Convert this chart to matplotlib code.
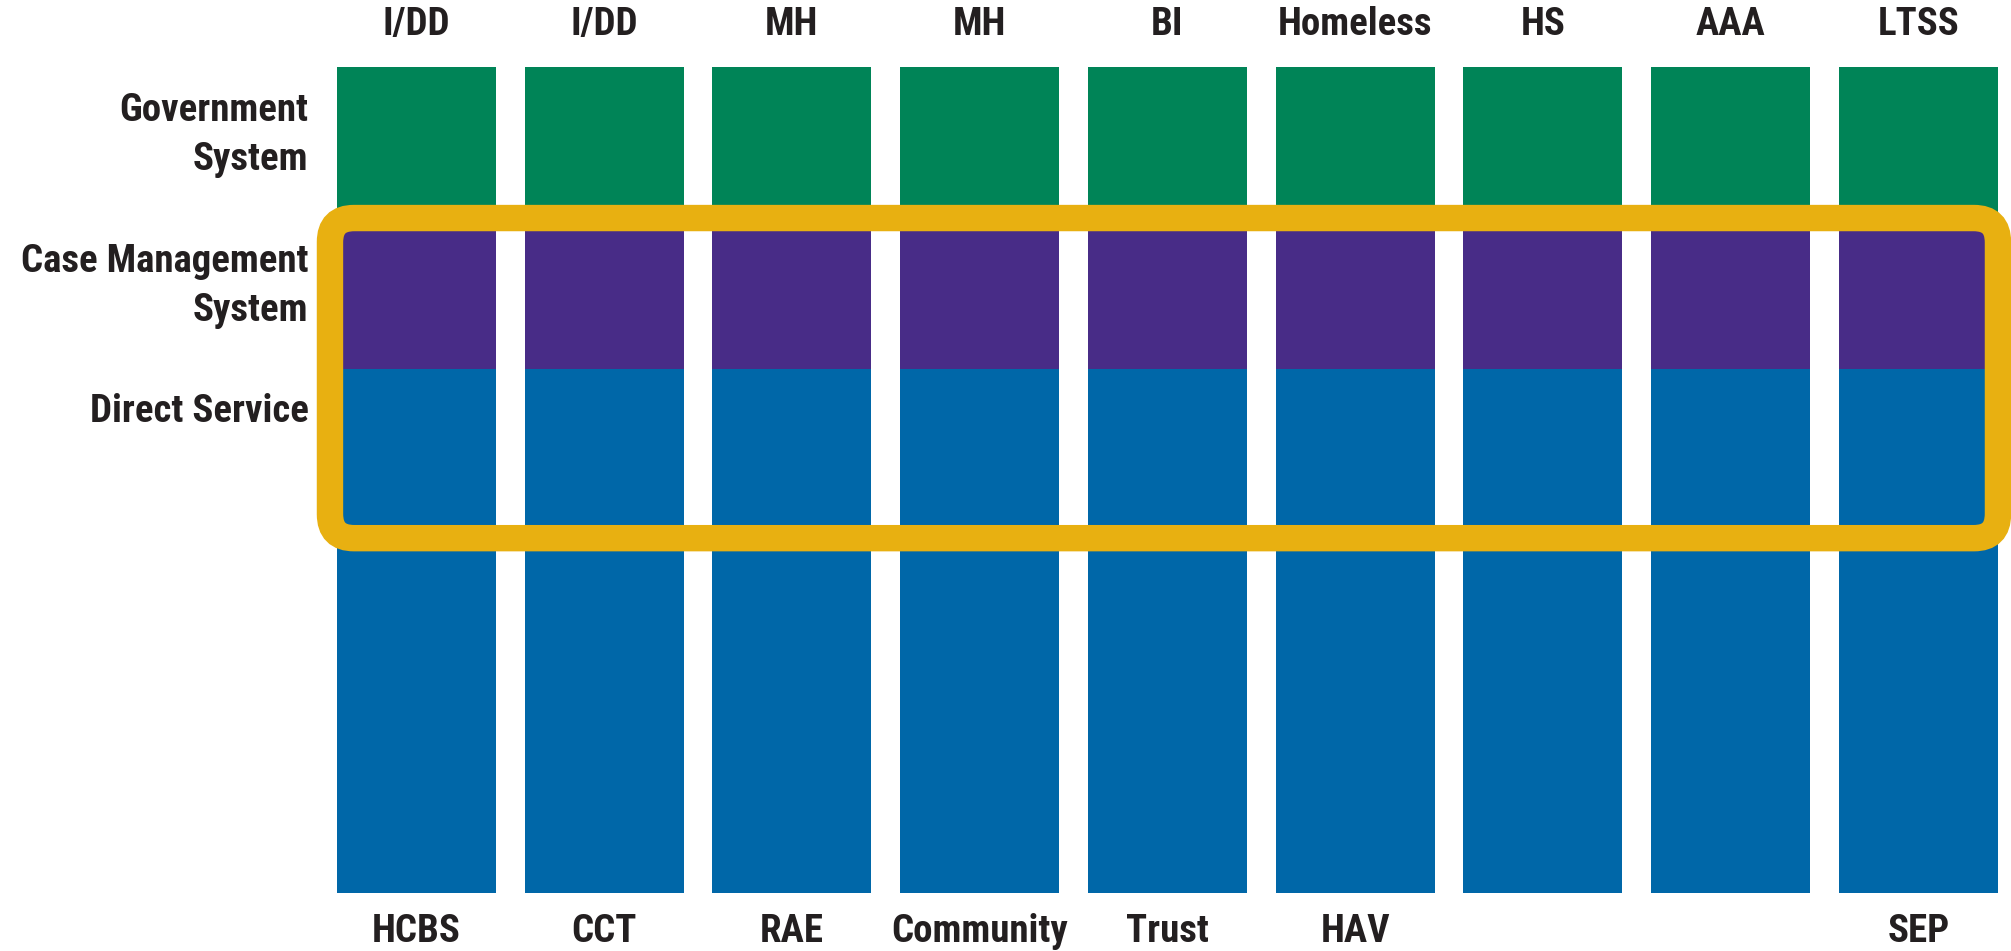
import matplotlib.pyplot as plt
from matplotlib.patches import FancyBboxPatch
from matplotlib.transforms import IdentityTransform

# data
top_labels = ["I/DD", "I/DD", "MH", "MH", "BI", "Homeless", "HS", "AAA", "LTSS"]
bottom_labels = ["HCBS", "CCT", "RAE", "Community", "Trust", "HAV", "", "", "SEP"]
direct_service = [3.47] * 9
case_management = [1.0] * 9
government = [1.0] * 9
row_labels = ["Government\nSystem", "Case Management\nSystem", "Direct Service"]
box_bottom = 2.35   # where the highlight box ends inside the blue block

green = "#008457"
purple = "#482c87"
blue = "#0067a8"
gold = "#e8b011"
ink = "#231f20"

plt.rcParams['font.family'] = ['Roboto Condensed', 'DejaVu Sans']
fs = 28

fig = plt.figure(figsize=(20.11, 9.51), dpi=100)
ax = fig.add_axes([0, 0, 1, 1])
ax.set_xlim(-2.218, 8.493)
ax.set_ylim(-0.384, 5.914)
ax.axis("off")

x = list(range(len(top_labels)))
w = 0.847
ax.bar(x, direct_service, width=w, color=blue)
ax.bar(x, case_management, width=w, bottom=direct_service, color=purple)
bot2 = [a + b for a, b in zip(direct_service, case_management)]
ax.bar(x, government, width=w, bottom=bot2, color=green)

tot = [a + b for a, b in zip(bot2, government)]
for i, lab in enumerate(top_labels):
    ax.text(i, tot[i] + 0.28, lab, ha="center", va="center", fontsize=fs,
            fontweight="bold", color=ink)
for i, lab in enumerate(bottom_labels):
    ax.text(i, -0.255, lab, ha="center", va="center", fontsize=fs,
            fontweight="bold", color=ink)

# row labels on the left
lab_x = -0.575
ax.text(lab_x, bot2[0] + government[0] / 2 + 0.05, row_labels[0], ha="right", va="center",
        fontsize=fs, fontweight="bold", color=ink, linespacing=1.38)
ax.text(lab_x, direct_service[0] + case_management[0] / 2 + 0.05, row_labels[1], ha="right",
        va="center", fontsize=fs, fontweight="bold", color=ink, linespacing=1.38)
ax.text(lab_x, direct_service[0] - 0.28, row_labels[2], ha="right", va="center",
        fontsize=fs, fontweight="bold", color=ink)

# rounded highlight around case management + direct service
fig.canvas.draw()
x0, y0 = ax.transData.transform((x[0] - w / 2 - 0.037, box_bottom))
x1, y1 = ax.transData.transform((x[-1] + w / 2, bot2[0]))
box = FancyBboxPatch((x0, y0), x1 - x0, y1 - y0,
                     boxstyle="round,pad=0,rounding_size=24",
                     transform=IdentityTransform(), fill=False,
                     edgecolor=gold, linewidth=19, zorder=5)
fig.patches.append(box)

fig.savefig("out.png", dpi=100)
